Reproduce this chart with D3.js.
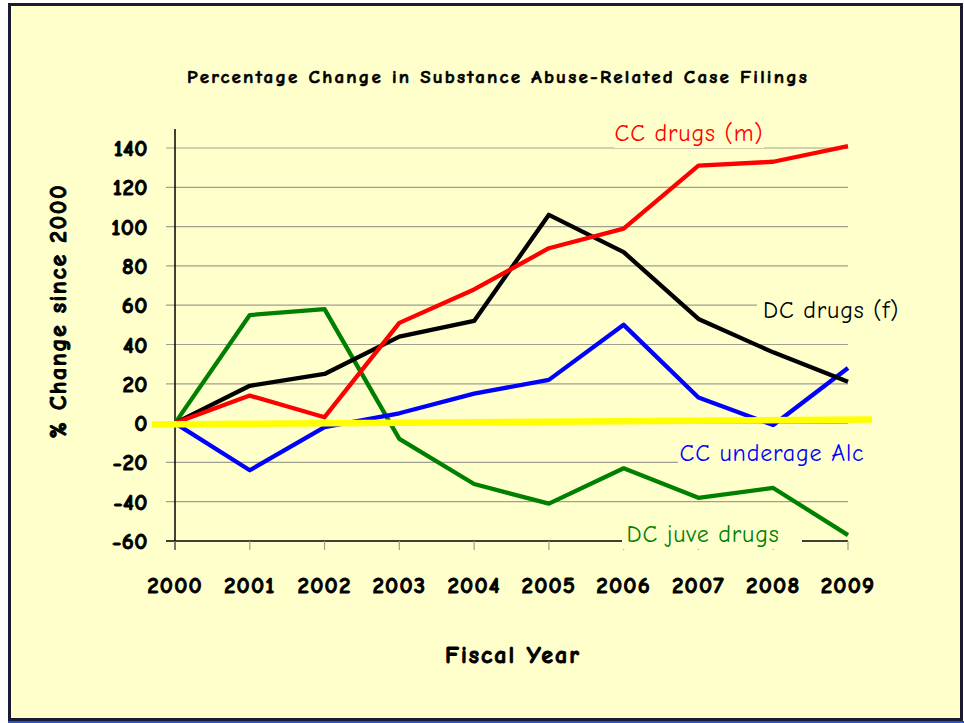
<!DOCTYPE html>
<html>
<head>
<meta charset="utf-8">
<script src="https://cdn.jsdelivr.net/npm/d3@7"></script>
<style>
  html, body { margin: 0; padding: 0; background: #ffffff; }
  svg text { font-family: "Comic Sans MS", "Comic Neue", "DejaVu Sans", sans-serif; }
  svg text.pogrubiony { font-weight: bold; stroke: #000; stroke-width: 0.9px; }
</style>
</head>
<body>
<svg id="chart" width="964" height="723"></svg>
<script>
// dane
const lata = [2000, 2001, 2002, 2003, 2004, 2005, 2006, 2007, 2008, 2009];
const ccDrugs = [0, 14, 3, 51, 68, 89, 99, 131, 133, 141];
const dcDrugs = [0, 19, 25, 44, 52, 106, 87, 53, 36, 21];
const ccUnderageAlc = [0, -24, -2, 5, 15, 22, 50, 13, -1, 28];
const dcJuveDrugs = [0, 55, 58, -8, -31, -41, -23, -38, -33, -57];
const yTicks = [140, 120, 100, 80, 60, 40, 20, 0, -20, -40, -60];
// linia trendu (żółta): [rok, wartość]
const trend = [[1999.69, -0.7], [2009.32, 1.8]];

const seria = [
  { nazwa: "DC juve drugs", wartosci: dcJuveDrugs, kolor: "#008000" },
  { nazwa: "CC underage Alc", wartosci: ccUnderageAlc, kolor: "#0000ff" },
  { nazwa: "DC drugs (f)", wartosci: dcDrugs, kolor: "#000000" },
  { nazwa: "CC drugs (m)", wartosci: ccDrugs, kolor: "#ff0000" }
];

const svg = d3.select("#chart");

// tło i ramka
svg.append("rect").attr("x", 0).attr("y", 0).attr("width", 964).attr("height", 723).attr("fill", "#ffffff");
svg.append("rect").attr("x", 9.5).attr("y", 4.5).attr("width", 952).attr("height", 715)
  .attr("fill", "#ffffcc").attr("stroke", "#1a1a33").attr("stroke-width", 3);
svg.append("line").attr("x1", 8).attr("x2", 964).attr("y1", 722).attr("y2", 722)
  .attr("stroke", "#2255cc").attr("stroke-width", 2);

const x = d3.scaleLinear().domain([2000, 2009]).range([175, 848]);
const y = d3.scaleLinear().domain([-60, 140]).range([541, 148]);

// siatka
svg.append("g").selectAll("line").data(yTicks.filter(d => d !== -60)).join("line")
  .attr("x1", 166).attr("x2", 848)
  .attr("y1", d => y(d)).attr("y2", d => y(d))
  .attr("stroke", "#a0a090").attr("stroke-width", 1.2);

// oś Y
svg.append("line").attr("x1", 175).attr("x2", 175).attr("y1", 129).attr("y2", 550)
  .attr("stroke", "#000").attr("stroke-width", 1.5);
svg.append("g").selectAll("text").data(yTicks).join("text")
  .attr("class", "pogrubiony")
  .attr("x", 148).attr("y", d => y(d))
  .attr("dy", "0.35em").attr("text-anchor", "end")
  .attr("font-size", 23).attr("letter-spacing", 0.5)
  .text(d => d);

// oś X
svg.append("line").attr("x1", 166).attr("x2", 848).attr("y1", y(-60)).attr("y2", y(-60))
  .attr("stroke", "#000").attr("stroke-width", 1.5);
svg.append("g").selectAll("line").data(lata).join("line")
  .attr("x1", d => x(d)).attr("x2", d => x(d))
  .attr("y1", y(-60)).attr("y2", y(-60) + 9)
  .attr("stroke", "#a0a090").attr("stroke-width", 1.2);
svg.append("g").selectAll("text").data(lata).join("text")
  .attr("class", "pogrubiony")
  .attr("x", d => x(d)).attr("y", 585)
  .attr("dy", "0.35em").attr("text-anchor", "middle")
  .attr("font-size", 23).attr("letter-spacing", 1.2)
  .text(d => d);

// tytuły
svg.append("text").attr("class", "pogrubiony")
  .attr("x", 498).attr("y", 76).attr("dy", "0.35em")
  .attr("text-anchor", "middle").attr("font-size", 19).attr("letter-spacing", 2.2)
  .style("stroke-width", "0.6px")
  .text("Percentage Change in Substance Abuse-Related Case Filings");
svg.append("text").attr("class", "pogrubiony")
  .attr("x", 513).attr("y", 655).attr("dy", "0.35em")
  .attr("text-anchor", "middle").attr("font-size", 24).attr("letter-spacing", 2)
  .text("Fiscal Year");
svg.append("text").attr("class", "pogrubiony")
  .attr("transform", "translate(58,311) rotate(-90)").attr("dy", "0.35em")
  .attr("text-anchor", "middle").attr("font-size", 24).attr("letter-spacing", 1.6)
  .text("% Change since 2000");

// linie serii
const linia = d3.line().x((d, i) => x(lata[i])).y(d => y(d));
svg.append("g").selectAll("path").data(seria).join("path")
  .attr("d", d => linia(d.wartosci))
  .attr("fill", "none").attr("stroke", d => d.kolor)
  .attr("stroke-width", 4.3).attr("stroke-linejoin", "round");

// żółta linia trendu
svg.append("path")
  .attr("d", d3.line().x(d => x(d[0])).y(d => y(d[1]))(trend))
  .attr("fill", "none").attr("stroke", "#ffff00").attr("stroke-width", 6.5);

// etykiety serii z tłem zakrywającym siatkę
const etykiety = [
  { tekst: "CC drugs (m)", kolor: "#ff0000", x: 689, y: 133, bx: 614, bw: 150 },
  { tekst: "DC drugs (f)", kolor: "#000000", x: 831, y: 310, bx: 757, bw: 150 },
  { tekst: "CC underage Alc", kolor: "#0000ff", x: 772, y: 453, bx: 678, bw: 190 },
  { tekst: "DC juve drugs", kolor: "#008000", x: 703, y: 534, bx: 622, bw: 180 }
];
const grupaEtykiet = svg.append("g");
etykiety.forEach(e => {
  grupaEtykiet.append("rect").attr("x", e.bx).attr("y", e.y - 15).attr("width", e.bw).attr("height", 30)
    .attr("fill", "#ffffcc");
  grupaEtykiet.append("text").attr("x", e.x).attr("y", e.y).attr("dy", "0.35em")
    .attr("text-anchor", "middle").attr("font-size", 24).attr("letter-spacing", 0.8)
    .attr("fill", e.kolor)
    .text(e.tekst);
});
</script>
</body>
</html>
